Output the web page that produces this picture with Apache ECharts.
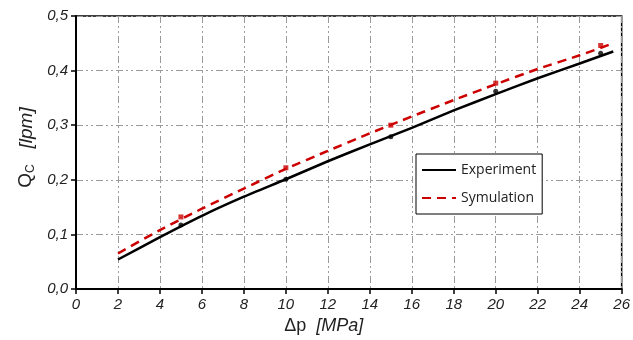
<!DOCTYPE html>
<html><head><meta charset="utf-8">
<script src="https://cdn.jsdelivr.net/npm/echarts@6/dist/echarts.min.js"></script>
<style>html,body{margin:0;padding:0;background:#fff}#c{width:633px;height:340px}</style>
</head><body><div id="c"></div>
<script>
const expX = [2, 4, 6, 8, 10, 12, 14, 16, 18, 20, 22, 24, 25.6];
const expY = [0.054, 0.095, 0.134, 0.169, 0.201, 0.234, 0.265, 0.295, 0.327, 0.357, 0.386, 0.413, 0.435];
const simX = [2, 4, 6, 8, 10, 12, 14, 16, 18, 20, 22, 24, 25.6];
const simY = [0.065, 0.108, 0.147, 0.184, 0.220, 0.253, 0.285, 0.316, 0.346, 0.375, 0.403, 0.428, 0.450];
const expMarkX = [5, 10, 15, 20, 25];
const expMarkY = [0.117, 0.201, 0.279, 0.362, 0.432];
const simMarkX = [5, 10, 15, 20, 25];
const simMarkY = [0.132, 0.222, 0.300, 0.377, 0.446];
const seriesNames = ['Experiment', 'Symulation'];

const zip = (a, b) => a.map((v, i) => [v, b[i]]);
const gridLine = {show: true, lineStyle: {color: '#9a9a9a', width: 1, type: [7, 3, 2, 3, 2, 3]}};
const chart = echarts.init(document.getElementById('c'));
chart.setOption({
  animation: false,
  grid: {left: 76, right: 11, top: 16, bottom: 51, show: true, borderColor: '#000', borderWidth: 1.5},
  xAxis: {
    type: 'value', min: 0, max: 26, interval: 2,
    name: '{a|Δp  }{b|[MPa]}', nameLocation: 'middle', nameGap: 27,
    nameTextStyle: {padding: [0, 50, 0, 0], rich: {a: {fontSize: 18, fontFamily: 'Liberation Sans', color: '#222'}, b: {fontSize: 18, fontStyle: 'italic', fontFamily: 'Liberation Sans', color: '#222'}}},
    axisLine: {lineStyle: {color: '#000', width: 2}},
    axisTick: {show: true, inside: false, length: 5, lineStyle: {color: '#000', width: 1.5}},
    axisLabel: {fontSize: 15, fontStyle: 'italic', fontFamily: 'Liberation Sans', color: '#222', margin: 8},
    splitLine: gridLine
  },
  yAxis: {
    type: 'value', min: 0, max: 0.5, interval: 0.1,
    name: '{a|Q}{s|C}{b|   [lpm]}', nameLocation: 'middle', nameGap: 32, nameRotate: 90,
    nameTextStyle: {padding: [0, 0, 0, 10], rich: {a: {fontSize: 19, fontFamily: 'Liberation Sans', color: '#222'}, s: {fontSize: 12, fontFamily: 'Liberation Sans', color: '#222', verticalAlign: 'bottom', padding: [8, 0, 0, 0]}, b: {fontSize: 19, fontStyle: 'italic', fontFamily: 'Liberation Sans', color: '#222'}}},
    axisLine: {show: true, lineStyle: {color: '#000', width: 2}},
    axisTick: {show: true, inside: false, length: 5, lineStyle: {color: '#000', width: 1.5}},
    axisLabel: {fontSize: 15, fontStyle: 'italic', fontFamily: 'Liberation Sans', color: '#222', margin: 8,
      formatter: v => v.toFixed(1).replace('.', ',')},
    splitLine: gridLine
  },
  legend: {
    data: seriesNames, orient: 'vertical', left: 416, top: 154,
    padding: [9, 6, 9, 5], itemGap: 14,
    backgroundColor: '#fff', borderColor: '#000', borderWidth: 1,
    itemWidth: 34, itemHeight: 12,
    itemStyle: {opacity: 0},
    textStyle: {fontSize: 14, fontFamily: 'Open Sans', color: '#222'}
  },
  series: [
    {name: seriesNames[0], type: 'line', data: zip(expX, expY), smooth: 0.2, symbol: 'none',
      lineStyle: {color: '#000', width: 2.5}, itemStyle: {color: '#000'}, z: 3},
    {name: seriesNames[1], type: 'line', data: zip(simX, simY), smooth: 0.2, symbol: 'none',
      lineStyle: {color: '#cc0000', width: 2.5, type: [9, 6]}, itemStyle: {color: '#cc0000'}, z: 4},
    {type: 'scatter', data: zip(expMarkX, expMarkY), symbol: 'circle', symbolSize: 5,
      itemStyle: {color: '#000'}, z: 5},
    {type: 'scatter', data: zip(simMarkX, simMarkY), symbol: 'rect', symbolSize: 5,
      itemStyle: {color: '#cc0000'}, z: 5}
  ]
});
</script></body></html>
